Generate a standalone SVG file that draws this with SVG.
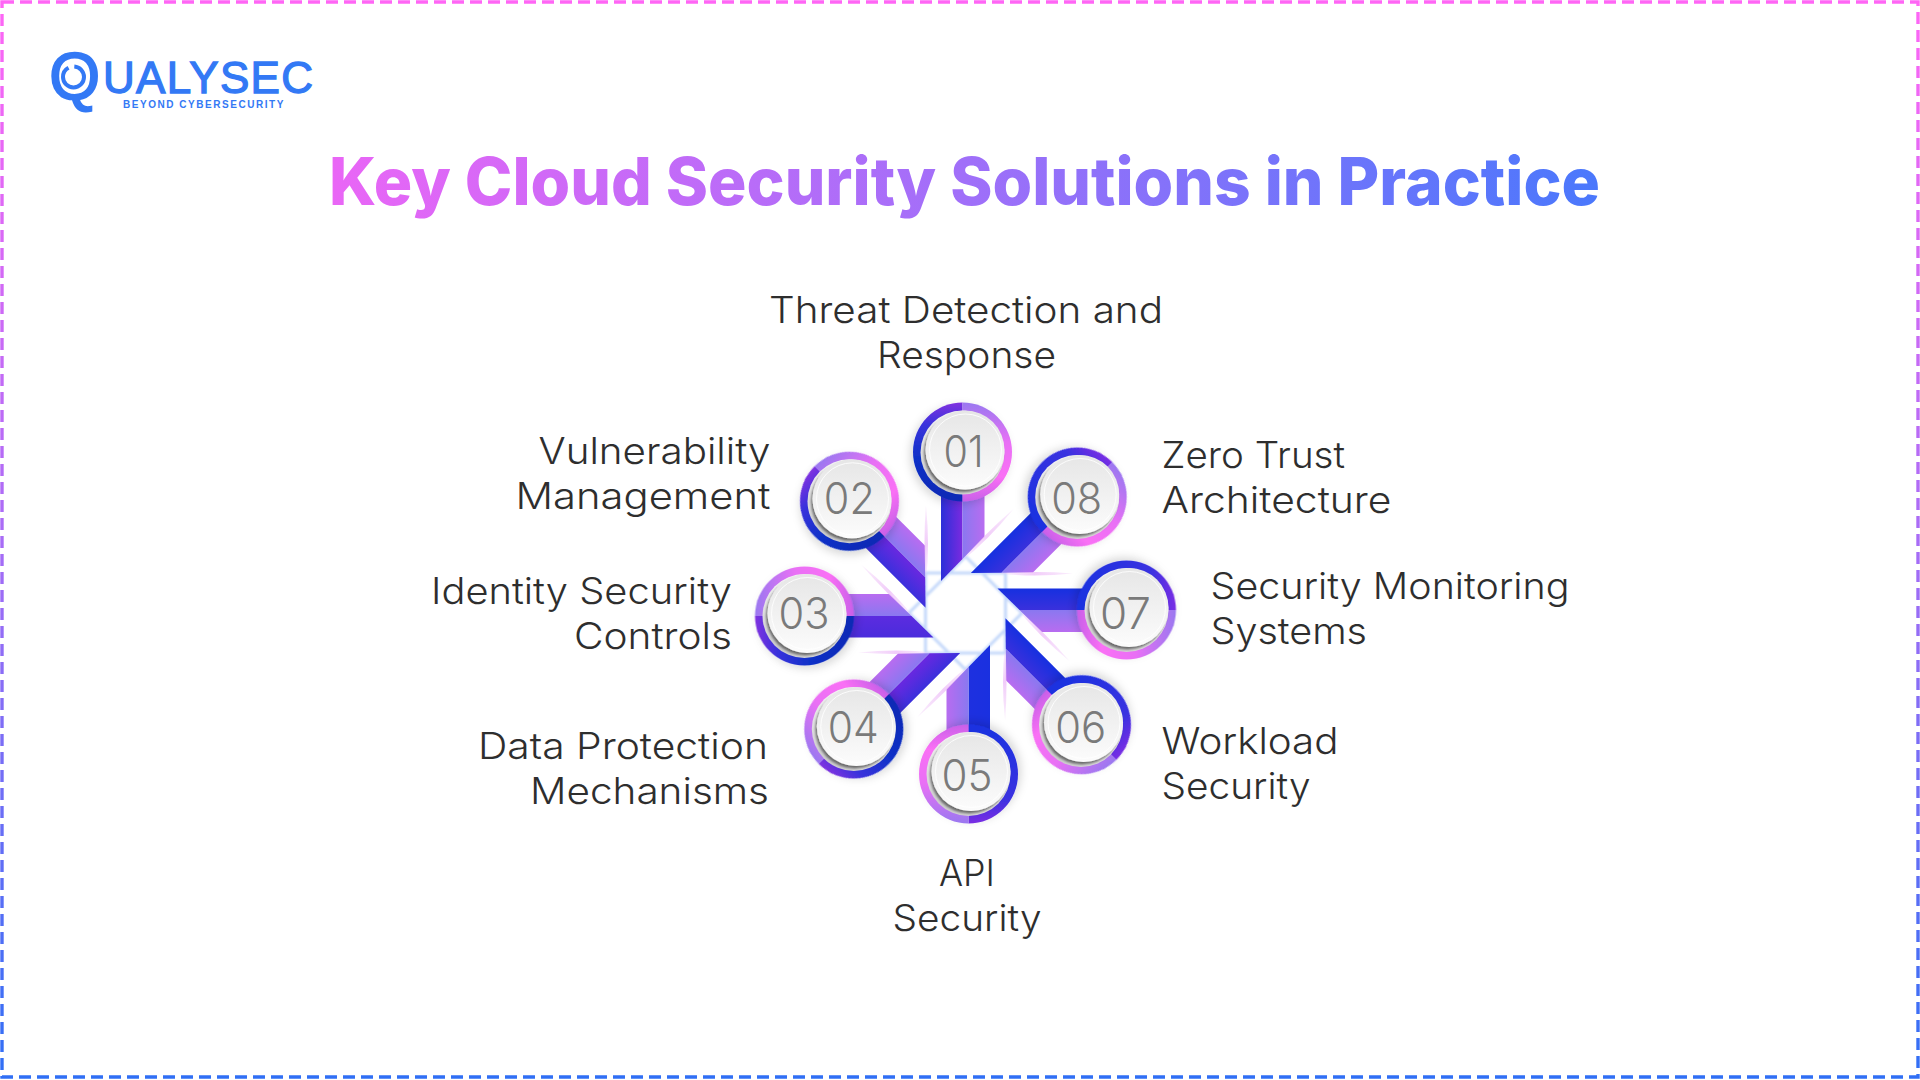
<svg xmlns="http://www.w3.org/2000/svg" xmlns:xlink="http://www.w3.org/1999/xlink" width="1920" height="1080" viewBox="0 0 1920 1080">
<style>
.lb{font-family:"Inter","Liberation Sans",sans-serif;font-size:37px;font-weight:300;fill:#2e2e2e}
.dg{font-family:"Inter","Liberation Sans",sans-serif;font-size:43px;font-weight:300;fill:#7a7a7a}
.face{fill:url(#faceG);filter:url(#faceSh)}
.base{fill:url(#baseG)}
.hl{fill:none;stroke:#ffffff;stroke-width:1;opacity:.85}
.logo{font-family:"Liberation Sans",Arial,sans-serif;fill:#3379f5}
</style>
<defs>
<linearGradient id="borderG" gradientUnits="userSpaceOnUse" x1="0" y1="0" x2="0" y2="1080"><stop offset="0" stop-color="#ff66f5"/><stop offset=".5" stop-color="#a86cf6"/><stop offset="1" stop-color="#2f6ff5"/></linearGradient>
<linearGradient id="titleG" gradientUnits="userSpaceOnUse" x1="328" y1="0" x2="1600" y2="0"><stop offset="0" stop-color="#ea66f6"/><stop offset=".5" stop-color="#a06ff9"/><stop offset="1" stop-color="#4a78fc"/></linearGradient>
<linearGradient id="faceG" x1="0" y1="0" x2="0" y2="1"><stop offset="0" stop-color="#e6e6e6"/><stop offset="1" stop-color="#fcfcfc"/></linearGradient>
<linearGradient id="baseG" x1=".8" y1=".1" x2=".25" y2=".95"><stop offset=".3" stop-color="#f4f4f4"/><stop offset=".8" stop-color="#dcdcdc"/><stop offset="1" stop-color="#cccccc"/></linearGradient>
<filter id="faceSh" x="-30%" y="-30%" width="160%" height="160%"><feDropShadow dx="-1.5" dy="2.5" stdDeviation="1.2" flood-color="#000000" flood-opacity=".5"/></filter>
<filter id="ringSh" x="-30%" y="-30%" width="160%" height="160%"><feDropShadow dx="-3" dy="3" stdDeviation="4" flood-color="#000000" flood-opacity=".15"/></filter>
<filter id="soft" x="-20%" y="-20%" width="140%" height="140%"><feGaussianBlur stdDeviation="1.2"/></filter>
<linearGradient id="L" x1="0" y1="0" x2="1" y2="0"><stop offset="0" stop-color="#8a78f0"/><stop offset="1" stop-color="#b86cf0"/></linearGradient>
<linearGradient id="d1" x1="0" y1="0" x2="1" y2="0"><stop offset="0" stop-color="#2a30d8"/><stop offset="1" stop-color="#7a2ae0"/></linearGradient>
<linearGradient id="d2" x1="0" y1="0" x2="1" y2="0"><stop offset="0" stop-color="#3b30dc"/><stop offset="1" stop-color="#6a28e0"/></linearGradient>
<linearGradient id="d3" x1="0" y1="0" x2="1" y2="0"><stop offset="0" stop-color="#4a2cdc"/><stop offset="1" stop-color="#5c2ce0"/></linearGradient>
<linearGradient id="d5" x1="0" y1="0" x2="1" y2="0"><stop offset="0" stop-color="#1a30e0"/><stop offset="1" stop-color="#1e30e0"/></linearGradient>
<linearGradient id="d6" x1="0" y1="0" x2="1" y2="0"><stop offset="0" stop-color="#1630e0"/><stop offset="1" stop-color="#3a30dc"/></linearGradient>
<linearGradient id="rD1" x1="0" y1="0" x2="0" y2="1"><stop offset="0" stop-color="#8030e0"/><stop offset=".22" stop-color="#3a30dc"/><stop offset=".55" stop-color="#1030c8"/><stop offset="1" stop-color="#0a2ab4"/></linearGradient>
<linearGradient id="rD2" x1="0" y1="0" x2="0" y2="1"><stop offset="0" stop-color="#7a2ee4"/><stop offset=".25" stop-color="#3a30e0"/><stop offset="1" stop-color="#1a30e0"/></linearGradient>
<linearGradient id="rL" x1="0" y1="0" x2="0" y2="1"><stop offset="0" stop-color="#9a78f0"/><stop offset=".4" stop-color="#e870f5"/><stop offset=".75" stop-color="#fa6ff5"/><stop offset="1" stop-color="#c860e8"/></linearGradient>
<linearGradient id="spk" x1="0" y1="1" x2="1" y2="0"><stop offset="0" stop-color="#f0c8f8" stop-opacity=".2"/><stop offset=".5" stop-color="#eec0f8" stop-opacity=".8"/><stop offset="1" stop-color="#f0c8f8" stop-opacity=".3"/></linearGradient>
<polygon id="barD" points="-24.5,-125 -3,-125 -3,-54 -24.5,-32"/>
<polygon id="barL" points="-3,-125 19,-125 19,-76 -3,-54"/>
<path id="spike" d="M48,-104 Q20,-80 -6,-50 Q24,-74 48,-104Z" fill="url(#spk)"/>
<path id="hD" d="M-3,-210.5A49.5,49.5 0 0 0 -3,-111.5Z"/>
<path id="hL" d="M-3,-210.5A49.5,49.5 0 0 1 -3,-111.5Z" fill="url(#rL)"/>
</defs>
<rect width="1920" height="1080" fill="#ffffff"/>
<rect id="border" x="2" y="2" width="1916" height="1075" fill="none" stroke="url(#borderG)" stroke-width="3.4" stroke-dasharray="12 6"/>
<g id="logo">
<text class="logo"><tspan x="49" y="98.5" font-size="66" stroke="#3379f5" stroke-width="1.6">Q</tspan><tspan x="103" y="93" font-size="44" stroke="#3379f5" stroke-width="1.3" textLength="210">UALYSEC</tspan></text>
<circle cx="73.5" cy="77" r="10.5" fill="none" stroke="#3379f5" stroke-width="4" stroke-dasharray="44 6"/>
<text class="logo" x="123" y="108" font-size="10" font-weight="700" letter-spacing="2.6" textLength="163">BEYOND CYBERSECURITY</text>
</g>
<text id="title" x="329" y="205" font-family="Inter,'Liberation Sans',sans-serif" font-size="66" font-weight="800" fill="url(#titleG)" textLength="1271" lengthAdjust="spacingAndGlyphs">Key Cloud Security Solutions in Practice</text>
<g id="hub" transform="translate(965.5,613)" fill="none" stroke="#c4d8fa" stroke-width="3" filter="url(#soft)">
<rect x="-40" y="-40" width="80" height="80"/>
<rect x="-40" y="-40" width="80" height="80" transform="rotate(45)"/>
</g>
<g id="connectors">
<g transform="translate(965.5,613) rotate(0)"><use href="#barD" fill="url(#d1)"/><use href="#barL" fill="url(#L)"/><use href="#spike"/></g>
<g transform="translate(965.5,613) rotate(-45)"><use href="#barD" fill="url(#d2)"/><use href="#barL" fill="url(#L)"/><use href="#spike"/></g>
<g transform="translate(965.5,613) rotate(-90)"><use href="#barD" fill="url(#d3)"/><use href="#barL" fill="url(#L)"/><use href="#spike"/></g>
<g transform="translate(965.5,613) rotate(-135)"><use href="#barD" fill="url(#d2)"/><use href="#barL" fill="url(#L)"/><use href="#spike"/></g>
<g transform="translate(965.5,613) rotate(180)"><use href="#barD" fill="url(#d5)"/><use href="#barL" fill="url(#L)"/><use href="#spike"/></g>
<g transform="translate(965.5,613) rotate(135)"><use href="#barD" fill="url(#d6)"/><use href="#barL" fill="url(#L)"/><use href="#spike"/></g>
<g transform="translate(965.5,613) rotate(90)"><use href="#barD" fill="url(#d6)"/><use href="#barL" fill="url(#L)"/><use href="#spike"/></g>
<g transform="translate(965.5,613) rotate(45)"><use href="#barD" fill="url(#d6)"/><use href="#barL" fill="url(#L)"/><use href="#spike"/></g>
</g>
<g id="node-01">
<g transform="translate(965.5,613)" filter="url(#ringSh)"><use href="#hD" fill="url(#rD1)"/><use href="#hL"/></g>
<circle class="base" cx="962.5" cy="452.5" r="42"/><circle class="face" cx="965" cy="450" r="39.5"/><circle class="hl" cx="965.5" cy="450" r="36"/>
<text class="dg" x="963.5" y="467" text-anchor="middle" textLength="40" lengthAdjust="spacingAndGlyphs">01</text>
<text class="lb" x="769" y="322.5" textLength="394" lengthAdjust="spacingAndGlyphs">Threat Detection and</text>
<text class="lb" x="877" y="367.5" textLength="179" lengthAdjust="spacingAndGlyphs">Response</text>
</g>
<g id="node-02">
<g transform="translate(965.5,613) rotate(-45)" filter="url(#ringSh)"><use href="#hD" fill="url(#rD1)"/><use href="#hL"/></g>
<circle class="base" cx="849.5" cy="501.3" r="42"/><circle class="face" cx="852" cy="498.8" r="39.5"/><circle class="hl" cx="852.5" cy="498.8" r="36"/>
<text class="dg" x="849.3" y="513.5" text-anchor="middle" textLength="51" lengthAdjust="spacingAndGlyphs">02</text>
<text class="lb" x="538.5" y="463.5" textLength="232" lengthAdjust="spacingAndGlyphs">Vulnerability</text>
<text class="lb" x="515.5" y="509" textLength="255" lengthAdjust="spacingAndGlyphs">Management</text>
</g>
<g id="node-03">
<g transform="translate(965.5,613) rotate(-90)" filter="url(#ringSh)"><use href="#hD" fill="url(#rD1)"/><use href="#hL"/></g>
<circle class="base" cx="804.5" cy="616" r="42"/><circle class="face" cx="807" cy="613.5" r="39.5"/><circle class="hl" cx="807.5" cy="613.5" r="36"/>
<text class="dg" x="804" y="628.5" text-anchor="middle" textLength="51" lengthAdjust="spacingAndGlyphs">03</text>
<text class="lb" x="431" y="604" textLength="301" lengthAdjust="spacingAndGlyphs">Identity Security</text>
<text class="lb" x="574" y="648.5" textLength="158" lengthAdjust="spacingAndGlyphs">Controls</text>
</g>
<g id="node-04">
<g transform="translate(965.5,613) rotate(-135)" filter="url(#ringSh)"><use href="#hD" fill="url(#rD1)"/><use href="#hL"/></g>
<circle class="base" cx="853.8" cy="729" r="42"/><circle class="face" cx="856.3" cy="726.5" r="39.5"/><circle class="hl" cx="856.8" cy="726.5" r="36"/>
<text class="dg" x="853.3" y="743.2" text-anchor="middle" textLength="51" lengthAdjust="spacingAndGlyphs">04</text>
<text class="lb" x="478" y="759" textLength="290" lengthAdjust="spacingAndGlyphs">Data Protection</text>
<text class="lb" x="530" y="803.5" textLength="239" lengthAdjust="spacingAndGlyphs">Mechanisms</text>
</g>
<g id="node-05">
<g transform="translate(965.5,613) rotate(180)" filter="url(#ringSh)"><use href="#hD" fill="url(#rD2)"/><use href="#hL"/></g>
<circle class="base" cx="968.5" cy="774" r="42"/><circle class="face" cx="971" cy="771.5" r="39.5"/><circle class="hl" cx="971.5" cy="771.5" r="36"/>
<text class="dg" x="967" y="790.5" text-anchor="middle" textLength="51" lengthAdjust="spacingAndGlyphs">05</text>
<text class="lb" x="939" y="885.5" textLength="56" lengthAdjust="spacingAndGlyphs">API</text>
<text class="lb" x="892.5" y="931" textLength="149" lengthAdjust="spacingAndGlyphs">Security</text>
</g>
<g id="node-06">
<g transform="translate(965.5,613) rotate(135)" filter="url(#ringSh)"><use href="#hD" fill="url(#rD2)"/><use href="#hL"/></g>
<circle class="base" cx="1081" cy="725" r="42"/><circle class="face" cx="1083.5" cy="722.5" r="39.5"/><circle class="hl" cx="1084" cy="722.5" r="36"/>
<text class="dg" x="1080.7" y="742.8" text-anchor="middle" textLength="51" lengthAdjust="spacingAndGlyphs">06</text>
<text class="lb" x="1161.5" y="754" textLength="177" lengthAdjust="spacingAndGlyphs">Workload</text>
<text class="lb" x="1161.5" y="798.5" textLength="149" lengthAdjust="spacingAndGlyphs">Security</text>
</g>
<g id="node-07">
<g transform="translate(965.5,613) rotate(90)" filter="url(#ringSh)"><use href="#hD" fill="url(#rD2)"/><use href="#hL"/></g>
<circle class="base" cx="1126.5" cy="610" r="42"/><circle class="face" cx="1129" cy="607.5" r="39.5"/><circle class="hl" cx="1129.5" cy="607.5" r="36"/>
<text class="dg" x="1125.5" y="628.5" text-anchor="middle" textLength="51" lengthAdjust="spacingAndGlyphs">07</text>
<text class="lb" x="1210.5" y="599" textLength="359" lengthAdjust="spacingAndGlyphs">Security Monitoring</text>
<text class="lb" x="1210.5" y="644" textLength="156.5" lengthAdjust="spacingAndGlyphs">Systems</text>
</g>
<g id="node-08">
<g transform="translate(965.5,613) rotate(45)" filter="url(#ringSh)"><use href="#hD" fill="url(#rD2)"/><use href="#hL"/></g>
<circle class="base" cx="1077.2" cy="497" r="42"/><circle class="face" cx="1079.7" cy="494.5" r="39.5"/><circle class="hl" cx="1080.2" cy="494.5" r="36"/>
<text class="dg" x="1076.7" y="513.5" text-anchor="middle" textLength="51" lengthAdjust="spacingAndGlyphs">08</text>
<text class="lb" x="1161.5" y="468" textLength="183.5" lengthAdjust="spacingAndGlyphs">Zero Trust</text>
<text class="lb" x="1161.5" y="513" textLength="230" lengthAdjust="spacingAndGlyphs">Architecture</text>
</g>
</svg>
